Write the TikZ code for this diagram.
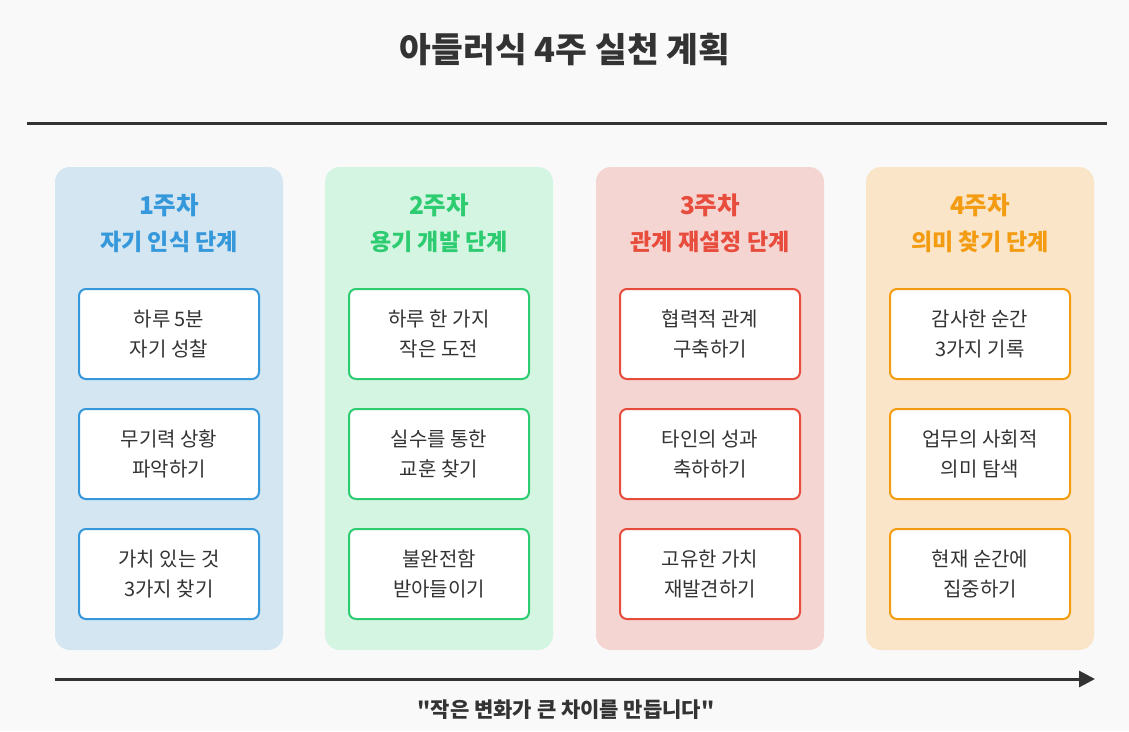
\documentclass[tikz,border=0pt]{standalone}
\usepackage{fontspec}
\setmainfont{Noto Sans CJK KR}[Ligatures=TeXOff]
\usetikzlibrary{arrows.meta}
\definecolor{bgc}{HTML}{F9F9F9}
\definecolor{txt}{HTML}{333333}
\definecolor{cA}{HTML}{3498DB}\definecolor{bA}{HTML}{D4E6F1}
\definecolor{cB}{HTML}{2ECC71}\definecolor{bB}{HTML}{D5F5E3}
\definecolor{cC}{HTML}{E74C3C}\definecolor{bC}{HTML}{F5D5D2}
\definecolor{cD}{HTML}{F39C12}\definecolor{bD}{HTML}{FAE5C8}
\tikzset{
  colbox/.style={rectangle, rounded corners=15pt, minimum width=228pt, minimum height=483pt, inner sep=0pt},
  taskbox/.style={rectangle, rounded corners=7pt, draw, line width=2pt, fill=white, minimum width=180pt, minimum height=90pt, inner sep=0pt, align=center, font=\fontsize{20}{30}\selectfont, text=txt},
  weektitle/.style={font=\fontsize{24.5}{28}\selectfont\bfseries},
  phasetitle/.style={font=\fontsize{23}{26}\selectfont\bfseries},
}
\begin{document}
\begin{tikzpicture}[x=1pt,y=-1pt]
\fill[bgc] (0,0) rectangle (1129,731);
\useasboundingbox (0,0) rectangle (1129,731);
\node[font=\fontsize{34.5}{38}\selectfont\bfseries, text=txt] (title) at (565,50) {아들러식 4주 실천 계획};
\coordinate (hl) at (27,123);
\coordinate (hr) at (1107,123);
\draw[txt, line width=3pt] (hl) -- (hr);
% columns
\foreach \n/\x/\c/\b/\w/\p/\ta/\tb/\tc in {
  1/169/cA/bA/1주차/자기 인식 단계/{하루 5분\\자기 성찰}/{무기력 상황\\파악하기}/{가치 있는 것\\3가지 찾기},
  2/439/cB/bB/2주차/용기 개발 단계/{하루 한 가지\\작은 도전}/{실수를 통한\\교훈 찾기}/{불완전함\\받아들이기},
  3/710/cC/bC/3주차/관계 재설정 단계/{협력적 관계\\구축하기}/{타인의 성과\\축하하기}/{고유한 가치\\재발견하기},
  4/980/cD/bD/4주차/의미 찾기 단계/{감사한 순간\\3가지 기록}/{업무의 사회적\\의미 탐색}/{현재 순간에\\집중하기}}{
  \node[colbox, fill=\b] (col\n) at (\x,408.5) {};
  \node[weektitle, text=\c] (wk\n) at (\x,205) {\w};
  \node[phasetitle, text=\c] (ph\n) at (\x,242) {\p};
  \node[taskbox, draw=\c] (t\n a) at (\x,334) {\ta};
  \node[taskbox, draw=\c] (t\n b) at (\x,454) {\tb};
  \node[taskbox, draw=\c] (t\n c) at (\x,574) {\tc};
}
\coordinate (al) at (55,679);
\coordinate (ar) at (1095,679);
\draw[txt, line width=3pt, -{Triangle[length=16pt,width=16pt]}] (al) -- (ar);
\node[font=\fontsize{21}{24}\selectfont\bfseries, text=txt] (quote) at (566,710) {"작은 변화가 큰 차이를 만듭니다"};
\end{tikzpicture}
\end{document}
